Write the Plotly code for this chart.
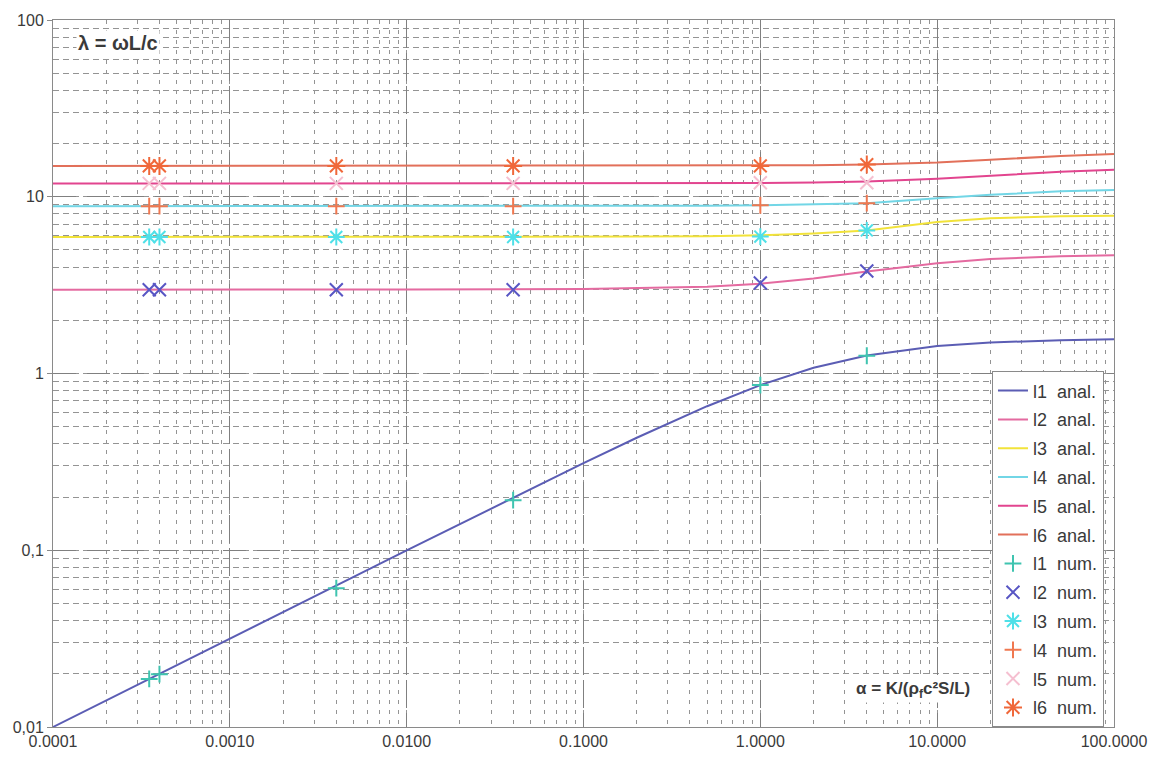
import plotly.graph_objects as go

# Analytical eigenvalue curves lambda(alpha)
alpha_anal = [0.0001, 0.001, 0.01, 0.1, 0.2, 0.5, 1, 2, 4, 10, 20, 50, 100]
l1_anal = [0.01, 0.0316, 0.0998, 0.311, 0.433, 0.653, 0.86, 1.077, 1.265, 1.43, 1.50, 1.54, 1.56]
l2_anal = [2.98, 2.98, 2.99, 3.01, 3.04, 3.10, 3.22, 3.45, 3.78, 4.20, 4.45, 4.60, 4.66]
l3_anal = [5.92, 5.92, 5.92, 5.93, 5.95, 5.98, 6.05, 6.20, 6.45, 7.20, 7.55, 7.75, 7.80]
l4_anal = [8.85, 8.85, 8.85, 8.86, 8.87, 8.90, 8.95, 9.05, 9.20, 9.80, 10.25, 10.75, 10.92]
l5_anal = [11.88, 11.88, 11.88, 11.89, 11.90, 11.92, 11.96, 12.05, 12.20, 12.65, 13.20, 13.85, 14.20]
l6_anal = [14.95, 14.95, 14.95, 14.95, 14.96, 14.98, 15.00, 15.08, 15.20, 15.60, 16.20, 17.00, 17.45]

# Numerical results
alpha_num = [0.00035, 0.0004, 0.004, 0.04, 1.0, 4.0]
l1_num = [0.0187, 0.0199, 0.061, 0.192, 0.86, 1.26]
l2_num = [2.98, 2.98, 2.98, 2.98, 3.25, 3.80]
l3_num = [5.92, 5.92, 5.92, 5.92, 5.95, 6.45]
l4_num = [8.85, 8.85, 8.85, 8.85, 8.95, 9.20]
l5_num = [11.90, 11.90, 11.90, 11.90, 12.00, 12.00]
l6_num = [14.95, 14.95, 14.95, 14.95, 14.95, 15.20]

x_tickvals = [0.0001, 0.001, 0.01, 0.1, 1, 10, 100]
x_ticktext = ["0.0001", "0.0010", "0.0100", "0.1000", "1.0000", "10.0000", "100.0000"]
y_tickvals = [0.01, 0.1, 1, 10, 100]
y_ticktext = ["0,01", "0,1", "1", "10", "100"]

NB = "\u00a0"
anal_series = [
    ("l1", l1_anal, "#5b5db4"),
    ("l2", l2_anal, "#e46aa0"),
    ("l3", l3_anal, "#f2e33a"),
    ("l4", l4_anal, "#72d6e6"),
    ("l5", l5_anal, "#e2458f"),
    ("l6", l6_anal, "#e2705a"),
]
num_series = [
    ("l1", l1_num, "#3fc4b0", "cross-thin", 12),
    ("l2", l2_num, "#5856c4", "x-thin", 13),
    ("l3", l3_num, "#4fe0e8", "asterisk", 14),
    ("l4", l4_num, "#f07850", "cross-thin", 12),
    ("l5", l5_num, "#f5bfd0", "x-thin", 13),
    ("l6", l6_num, "#f0683a", "asterisk", 15),
]

fig = go.Figure()
for i, (name, ys, color) in enumerate(anal_series):
    fig.add_trace(go.Scatter(
        x=alpha_anal, y=ys, mode="lines",
        name=f"{name}{NB}{NB}anal.", legendgroup=f"a{i}",
        line=dict(color=color, width=2),
    ))
for i, (name, ys, color, sym, size) in enumerate(num_series):
    fig.add_trace(go.Scatter(
        x=alpha_num, y=ys, mode="markers",
        name=f"{name}{NB}{NB}num.", legendgroup=f"n{i}",
        marker=dict(symbol=sym, size=size, color=color,
                    line=dict(color=color, width=2)),
    ))

grid_col = "#808080"
fig.update_layout(
    width=1159, height=761,
    margin=dict(l=53, r=45, t=20, b=34),
    paper_bgcolor="white", plot_bgcolor="white",
    font=dict(family="Liberation Sans, Arial, sans-serif", size=16, color="#3a3a3a"),
    showlegend=True,
    legend=dict(
        x=0.885, y=0.503, xanchor="left", yanchor="top",
        bgcolor="white", bordercolor="#8a8a8a", borderwidth=1,
        font=dict(size=18, color="#3a3a3a"),
        traceorder="grouped", tracegroupgap=2.4,
        itemwidth=30,
    ),
    xaxis=dict(
        type="log", range=[-4, 2],
        tickvals=x_tickvals, ticktext=x_ticktext,
        showgrid=True, gridcolor=grid_col, gridwidth=1, griddash="28px,5px",
        minor=dict(showgrid=True, dtick="D1", gridcolor="#949494", gridwidth=1, griddash="4px,6px"),
        showline=True, linecolor="#8a8a8a", linewidth=1, mirror=True,
        ticks="", ticklen=0, zeroline=False,
    ),
    yaxis=dict(
        type="log", range=[-2, 2],
        tickvals=y_tickvals, ticktext=y_ticktext,
        showgrid=True, gridcolor=grid_col, gridwidth=1, griddash="23px,11px",
        minor=dict(showgrid=True, dtick="D1", gridcolor="#949494", gridwidth=1, griddash="6px,4px"),
        showline=True, linecolor="#8a8a8a", linewidth=1, mirror=True,
        ticks="outside", ticklen=5, tickcolor="#8a8a8a", zeroline=False,
    ),
    annotations=[
        dict(x=0.022, y=0.967, xref="paper", yref="paper", xanchor="left", yanchor="middle",
             text="<b>λ = ωL/c</b>", showarrow=False, font=dict(size=20, color="#3a3a3a"),
             bgcolor="white"),
        dict(x=0.755, y=0.052, xref="paper", yref="paper", xanchor="left", yanchor="middle",
             text="<b>α = K/(ρ<sub>f</sub>c²S/L)</b>", showarrow=False,
             font=dict(size=17, color="#3a3a3a"), bgcolor="white"),
    ],
)

fig.write_html("out.html")
